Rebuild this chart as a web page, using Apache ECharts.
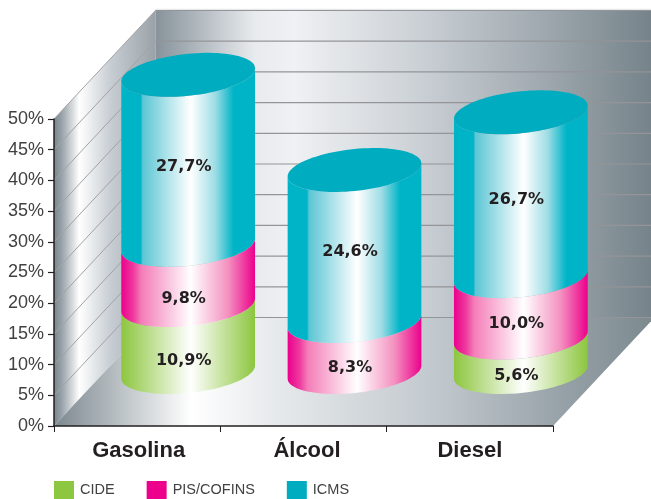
<!DOCTYPE html>
<html><head><meta charset="utf-8">
<style>html,body{margin:0;padding:0;background:#fff}#c{width:651px;height:499px}</style>
<script src="https://cdn.jsdelivr.net/npm/echarts@6/dist/echarts.min.js"></script>
</head><body><div id="c"></div>
<script>
var categories = ['Gasolina', 'Álcool', 'Diesel'];
var cide = [10.9, 0, 5.6];
var pisCofins = [9.8, 8.3, 10.0];
var icms = [27.7, 24.6, 26.7];
var seriesNames = ['CIDE', 'PIS/COFINS', 'ICMS'];
var axisTicks = [0, 5, 10, 15, 20, 25, 30, 35, 40, 45, 50];

var DEPTH_X = 101.5, DEPTH_Y = -108.5, SHIFT_X = 51, SHIFT_Y = -54;
var RA = 0.402, RB = 21, SKEW = 6.5;
var LABEL_DY = [[22, 21, 21], [24, 21, 16.5], [7, 6, 6]], LABEL_DX = -4.5;
var CATEGORY_LABEL_PAD = [3, 7, 0];

function grad(stops) {
  return {type: 'linear', x: 0, y: 0, x2: 1, y2: 0,
    colorStops: stops.map(function (s) { return {offset: s[0], color: s[1]}; })};
}
function gradGlobal(x1, x2, stops) {
  return {type: 'linear', global: true, x: x1, y: 0, x2: x2, y2: 0,
    colorStops: stops.map(function (s) { return {offset: s[0], color: s[1]}; })};
}
var bodyFill = [
  grad([[0, '#8dc63f'], [0.52, '#ffffff'], [1, '#8dc63f']]),
  grad([[0, '#ec008c'], [0.09, '#ee3a9e'], [0.15, '#f47db8'], [0.52, '#ffffff'], [0.8, '#f490bf'], [1, '#ec008c']]),
  grad([[0, '#00b4c7'], [0.145, '#00b4c7'], [0.16, '#5cc6d4'], [0.52, '#ffffff'], [0.7, '#a0dde5'], [0.84, '#00b4c7'], [1, '#00b4c7']])
];
var legendColors = ['#8dc63f', '#ec008c', '#00acc0'];
var capColor = '#00acc0';

function frontArc(cx, cy, a, reverse) {
  var pts = [];
  for (var i = 0; i <= 48; i++) {
    var t = Math.PI * i / 48;
    pts.push([cx + a * Math.cos(t), cy + RB * Math.sin(t) - SKEW * Math.cos(t)]);
  }
  return reverse ? pts.reverse() : pts;
}
function fullEllipse(cx, cy, a) {
  var pts = [];
  for (var i = 0; i < 96; i++) {
    var t = 2 * Math.PI * i / 96;
    pts.push([cx + a * Math.cos(t), cy + RB * Math.sin(t) - SKEW * Math.cos(t)]);
  }
  return pts;
}
function cylinderRenderer(sIdx) {
  return function (params, api) {
    var cat = api.value(0), lo = api.value(1), hi = api.value(2), val = api.value(3);
    if (!val) return {type: 'group', children: []};
    var a = api.size([1, 0])[0] * RA;
    var pLo = api.coord([cat, lo]), pHi = api.coord([cat, hi]);
    var cx = pLo[0] + SHIFT_X, yLo = pLo[1] + SHIFT_Y, yHi = pHi[1] + SHIFT_Y;
    var pts = frontArc(cx, yHi, a, false).concat(frontArc(cx, yLo, a, true));
    var children = [{type: 'polygon', shape: {points: pts}, style: {fill: bodyFill[sIdx]}}];
    if (sIdx === 2) {
      children.push({type: 'polygon', shape: {points: fullEllipse(cx, yHi, a)}, style: {fill: capColor}});
    }
    children.push({type: 'text', z2: 10, style: {
      text: val.toFixed(1).replace('.', ',') + '%',
      x: cx + LABEL_DX, y: (yLo + yHi) / 2 + LABEL_DY[sIdx][cat],
      align: 'center', verticalAlign: 'middle',
      font: 'bold 16px "DejaVu Sans"', fill: '#231f20'
    }});
    return {type: 'group', children: children};
  };
}
function renderWalls(params, api) {
  var o0 = api.coord([0, 0]), top = api.coord([0, 50]);
  var band = api.size([1, 0])[0];
  var xL = o0[0] - band / 2, xR = xL + band * categories.length;
  var y0 = o0[1], y50 = top[1];
  var bxL = xL + DEPTH_X, bxR = xR + DEPTH_X, by0 = y0 + DEPTH_Y, by50 = y50 + DEPTH_Y;
  var kids = [];
  kids.push({type: 'polygon', shape: {points: [[xL, y0], [bxL, by0], [bxL, by50], [xL, y50]]},
    style: {fill: gradGlobal(xL, bxL, [[0, '#79868d'], [0.08, '#9aa4aa'], [0.25, '#ffffff'], [0.55, '#c8ced3'], [1, '#9aa2a8']])}});
  kids.push({type: 'polygon', shape: {points: [[bxL, by0], [bxR, by0], [bxR, by50], [bxL, by50]]},
    style: {fill: gradGlobal(bxL, 651, [[0, '#87929a'], [0.2, '#e8ebee'], [0.28, '#eff1f3'], [0.5, '#d0d5da'], [0.75, '#a5aeb4'], [1, '#76838a']])}});
  kids.push({type: 'polygon', shape: {points: [[xL, y0], [xR, y0], [bxR, by0], [bxL, by0]]},
    style: {fill: gradGlobal(xL, 651, [[0, '#7c888f'], [0.23, '#ffffff'], [0.36, '#e8ebed'], [0.65, '#c0c7cc'], [0.85, '#97a2a8'], [1, '#7c8a90']])}});
  axisTicks.forEach(function (v) {
    var y = api.coord([0, v])[1];
    if (v > 0) {
      kids.push({type: 'line', shape: {x1: xL, y1: y, x2: bxL, y2: y + DEPTH_Y},
        style: {stroke: '#a1a3a6', lineWidth: 1}});
    }
    kids.push({type: 'line', shape: {x1: bxL, y1: y + DEPTH_Y, x2: bxR, y2: y + DEPTH_Y},
      style: {stroke: '#939598', lineWidth: 1.2}});
  });
  kids.push({type: 'line', shape: {x1: bxL, y1: by50 - 1.2, x2: bxR, y2: by50 - 1.2},
    style: {stroke: '#e2e3e4', lineWidth: 1}});
  return {type: 'group', silent: true, children: kids};
}

var stacks = [cide, pisCofins, icms];
var series = [{
  name: 'walls', type: 'custom', z: 1, silent: true,
  data: [[0, 0]], encode: {x: 0, y: 1},
  renderItem: renderWalls, tooltip: {show: false}
}];
stacks.forEach(function (values, s) {
  series.push({
    name: seriesNames[s], type: 'custom', z: 3 + s,
    itemStyle: {color: legendColors[s]},
    encode: {x: 0, y: 2},
    data: categories.map(function (c, i) {
      var lo = 0;
      for (var k = 0; k < s; k++) lo += stacks[k][i];
      return [i, +lo.toFixed(2), +(lo + values[i]).toFixed(2), values[i]];
    }),
    renderItem: cylinderRenderer(s)
  });
});

var chart = echarts.init(document.getElementById('c'), null, {renderer: 'canvas'});
chart.setOption({
  animation: false,
  backgroundColor: '#ffffff',
  grid: {left: 54, right: 98, top: 119, bottom: 73, containLabel: false},
  legend: {
    data: seriesNames, left: 54, top: 481, itemWidth: 20, itemHeight: 18, itemGap: 32,
    icon: 'rect', selectedMode: false, padding: 0,
    textStyle: {fontFamily: '"Liberation Sans"', fontSize: 14.5, color: '#414042', padding: [5, 0, 0, 1]}
  },
  xAxis: {
    type: 'category', z: 6,
    data: categories.map(function (c, i) {
      return {value: c, textStyle: {padding: [0, 0, 0, CATEGORY_LABEL_PAD[i]]}};
    }),
    axisLine: {lineStyle: {color: '#231f20', width: 1.5}},
    axisTick: {show: true, length: 6, lineStyle: {color: '#231f20', width: 1}},
    axisLabel: {fontFamily: '"Liberation Sans"', fontWeight: 'bold', fontSize: 22, color: '#231f20', margin: 14}
  },
  yAxis: {
    type: 'value', min: 0, max: 50, interval: 5, z: 6,
    axisLine: {show: true, lineStyle: {color: '#231f20', width: 1.5}},
    axisTick: {show: true, length: 6, lineStyle: {color: '#231f20', width: 1.2}},
    splitLine: {show: false},
    axisLabel: {formatter: '{value}%', fontFamily: '"Liberation Sans"', fontSize: 18, color: '#414042', margin: 10, padding: [4, 0, 0, 0]}
  },
  series: series
});
</script></body></html>
